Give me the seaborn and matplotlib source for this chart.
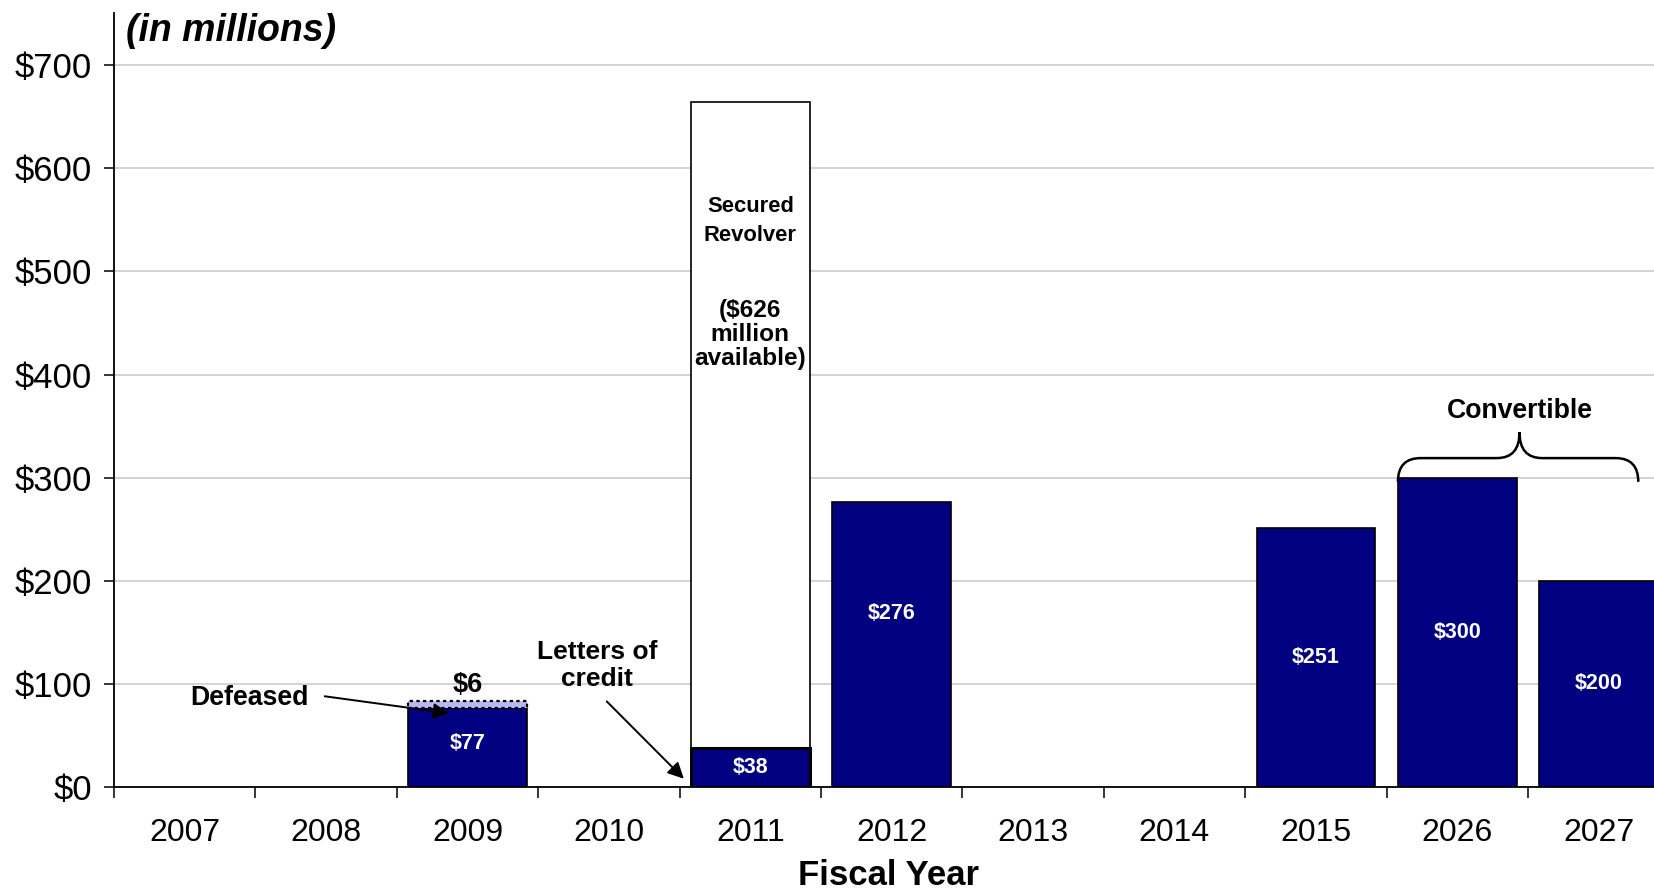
import matplotlib
matplotlib.use("Agg")
import matplotlib.pyplot as plt
import seaborn as sns
import pandas as pd
from matplotlib.path import Path
from matplotlib.patches import PathPatch

# ---- data ----
years = ["2007", "2008", "2009", "2010", "2011", "2012", "2013", "2014", "2015", "2026", "2027"]
debt = [0, 0, 77, 0, 38, 276, 0, 0, 251, 300, 200]
defeased = [0, 0, 6, 0, 0, 0, 0, 0, 0, 0, 0]
revolver_available = [0, 0, 0, 0, 626, 0, 0, 0, 0, 0, 0]
yticks = [0, 100, 200, 300, 400, 500, 600, 700]
ytick_labels = ["$0", "$100", "$200", "$300", "$400", "$500", "$600", "$700"]
label_frac = [0.5, 0.5, 0.55, 0.5, 0.51, 0.61, 0.5, 0.5, 0.5, 0.5, 0.5]

df = pd.DataFrame({"year": years, "debt": debt})

sns.set_style("white")
plt.rcParams["font.family"] = ["Liberation Sans", "DejaVu Sans"]
for k in ["text.color", "axes.labelcolor", "xtick.color", "ytick.color"]:
    plt.rcParams[k] = "black"

NAVY = "#000080"
W = 1654
H = 892
fig = plt.figure(figsize=(W / 100, H / 100), dpi=100)
left = 114 / W
bottom = 1 - 787 / H
ax = fig.add_axes([left, bottom, 1 - left, (787 - 12.7) / H])

bw = 0.84
# revolver total (white) behind
for i, (d, r) in enumerate(zip(debt, revolver_available)):
    if r > 0:
        ax.bar(i, d + r, width=bw, color="white", edgecolor="black", linewidth=1.2, zorder=2)

sns.barplot(data=df, x="year", y="debt", color=NAVY, saturation=1, width=bw,
            edgecolor="black", linewidth=1.2, ax=ax, zorder=3)
for i, p in enumerate(ax.containers[-1]):
    if revolver_available[i] > 0:
        p.set_linewidth(2.2)
    if debt[i] == 0:
        p.set_visible(False)

# defeased segment
for i, (d, f) in enumerate(zip(debt, defeased)):
    if f > 0:
        ax.bar(i, f, bottom=d, width=bw, color="#B8B8F4", edgecolor="black",
               linewidth=1.6, linestyle=(0, (1.5, 1.5)), zorder=4)
        ax.text(i, d + f + 16, f"${f}", ha="center", va="center", fontsize=19.5,
                fontweight="bold", color="black", zorder=6)

# value labels
for i, d in enumerate(debt):
    if d > 0:
        ax.text(i, d * label_frac[i], f"${d}", ha="center", va="center", fontsize=15.5,
                fontweight="bold", color="white", zorder=6)

# revolver texts
rx = revolver_available.index(626)
ax.text(rx, 549, "Secured\nRevolver", ha="center", va="center", fontsize=15.8,
        fontweight="bold", linespacing=1.5, zorder=6)
ax.text(rx, 439, "($626\nmillion\navailable)", ha="center", va="center", fontsize=17.6,
        fontweight="bold", linespacing=1.05, zorder=6)

# annotations
ax.text(0.455, 86, "Defeased", ha="center", va="center", fontsize=19.2, fontweight="bold", zorder=6)
ax.annotate("", xy=(1.87, 71.5), xytext=(0.99, 88),
            arrowprops=dict(arrowstyle="-|>", color="black", lw=1.4, mutation_scale=24,
                            shrinkA=0, shrinkB=0), zorder=6)
ax.text(2.918, 118, "Letters of\ncredit", ha="center", va="center", fontsize=19,
        fontweight="bold", linespacing=1.17, zorder=6)
ax.annotate("", xy=(3.53, 8), xytext=(2.985, 83),
            arrowprops=dict(arrowstyle="-|>", color="black", lw=1.4, mutation_scale=24,
                            shrinkA=0, shrinkB=0), zorder=6)

# convertible brace
x0, x1, xm = 8.58, 10.28, 9.44
yb, yf, yp = 296, 319, 344
dx = 0.16
verts = [(x0, yb), (x0, yf), (x0 + dx, yf), (xm - dx, yf), (xm, yf), (xm, yp),
         (xm, yf), (xm + dx, yf), (x1 - dx, yf), (x1, yf), (x1, yb)]
codes = [Path.MOVETO, Path.CURVE3, Path.CURVE3, Path.LINETO, Path.CURVE3, Path.CURVE3,
         Path.CURVE3, Path.CURVE3, Path.LINETO, Path.CURVE3, Path.CURVE3]
ax.add_patch(PathPatch(Path(verts, codes), facecolor="none", edgecolor="black", lw=1.8,
                       zorder=6, clip_on=False))
ax.text(xm, 365, "Convertible", ha="center", va="center", fontsize=19.2, fontweight="bold", zorder=6)

# axes styling
ax.set_yticks(yticks)
ax.set_yticklabels(ytick_labels)
ax.yaxis.grid(True, color="#c8c8c8", linewidth=1.1)
ax.xaxis.grid(False)
ax.set_axisbelow(True)
for s in ["top", "right"]:
    ax.spines[s].set_visible(False)
for s in ["left", "bottom"]:
    ax.spines[s].set_color("black")
    ax.spines[s].set_linewidth(1.3)
    ax.spines[s].set_zorder(5)
ax.tick_params(axis="y", which="major", length=7, width=1.1, color="black", pad=9,
               labelsize=25, left=True, direction="out")
ax.tick_params(axis="x", which="major", length=0, pad=22, labelsize=23)
ax.set_xticks([i - 0.5 for i in range(len(years) + 1)], minor=True)
ax.tick_params(axis="x", which="minor", length=8, width=1.1, color="black", direction="out",
               bottom=True)
ax.set_ylabel("")
ax.set_xlabel("Fiscal Year", fontsize=25, fontweight="bold")
ax.xaxis.set_label_coords((889 - 114) / (W - 114), -(885 - 787) / (787 - 12.7))
ax.xaxis.label.set_va("baseline")
ax.set_xlim(-0.5, -0.5 + (W - 114) / 141.4)
ax.set_ylim(0, 751)

fig.text(126 / W, 1 - 31 / H, "(in millions)", fontsize=27, fontweight="bold",
         fontstyle="italic", ha="left", va="center")

fig.savefig("out.png", dpi=100)
